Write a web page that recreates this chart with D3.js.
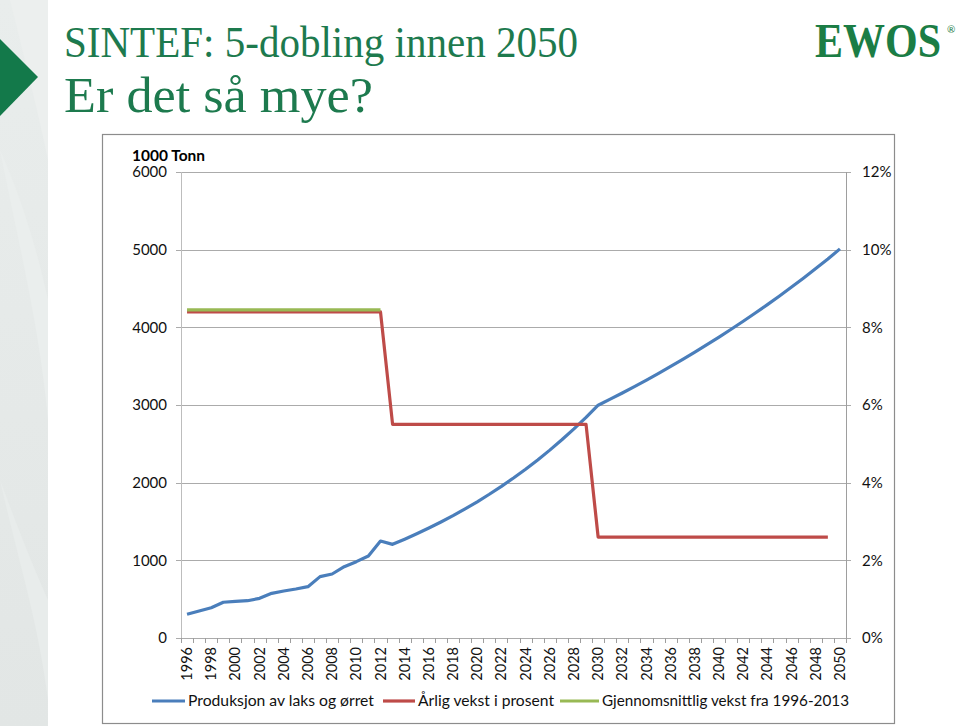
<!DOCTYPE html>
<html>
<head>
<meta charset="utf-8">
<script src="https://cdn.jsdelivr.net/npm/d3@7"></script>
<style>
  html, body { margin: 0; padding: 0; background: #ffffff; }
  svg { display: block; }
</style>
</head>
<body>
<svg id="chart" width="960" height="726"></svg>
<script>
// ---------------- DATA ----------------
const years = [1996,1997,1998,1999,2000,2001,2002,2003,2004,2005,2006,2007,2008,2009,2010,
  2011,2012,2013,2014,2015,2016,2017,2018,2019,2020,2021,2022,2023,2024,2025,2026,2027,2028,
  2029,2030,2031,2032,2033,2034,2035,2036,2037,2038,2039,2040,2041,2042,2043,2044,2045,2046,
  2047,2048,2049,2050];

// Produksjon av laks og ørret (1000 tonn)
const production = [305,348,390,460,472,480,511,575,605,631,661,790,824,918,983,
  1056,1249,1206,1272,1342,1416,1494,1576,1663,1754,1851,1953,2060,2173,2293,2419,2552,2692,
  2840,2997,3075,3155,3237,3321,3407,3496,3587,3680,3776,3874,3975,4078,4184,4293,4404,4519,
  4636,4757,4880,5010];

// Årlig vekst i prosent
const annualGrowth = [8.4,8.4,8.4,8.4,8.4,8.4,8.4,8.4,8.4,8.4,8.4,8.4,8.4,8.4,8.4,
  8.4,8.4,5.5,5.5,5.5,5.5,5.5,5.5,5.5,5.5,5.5,5.5,5.5,5.5,5.5,5.5,5.5,5.5,
  5.5,2.6,2.6,2.6,2.6,2.6,2.6,2.6,2.6,2.6,2.6,2.6,2.6,2.6,2.6,2.6,2.6,2.6,
  2.6,2.6,2.6,null];

// Gjennomsnittlig vekst fra 1996-2013
const avgGrowth = [8.45,8.45,8.45,8.45,8.45,8.45,8.45,8.45,8.45,8.45,8.45,8.45,8.45,8.45,8.45,
  8.45,8.45];

const leftTicks = [0,1000,2000,3000,4000,5000,6000];
const rightTicks = [0,2,4,6,8,10,12];
const xLabelYears = [1996,1998,2000,2002,2004,2006,2008,2010,2012,2014,2016,2018,2020,2022,
  2024,2026,2028,2030,2032,2034,2036,2038,2040,2042,2044,2046,2048,2050];

const seriesNames = ["Produksjon av laks og ørret", "Årlig vekst i prosent", "Gjennomsnittlig vekst fra 1996-2013"];
const leftUnit = "1000 Tonn";
const title1 = "SINTEF: 5-dobling innen 2050";
const title2 = "Er det så mye?";

// ---------------- LAYOUT ----------------
const W = 960, H = 726;
const plot = { left: 181, right: 846, top: 172, bottom: 638 };
const colors = { blue: "#4a7ebb", red: "#be4b48", green: "#98b954", grid: "#ababab", green2: "#1d7a4e" };
const sansFont = "Lato, 'Open Sans', sans-serif";

const svg = d3.select("#chart");

// ---------- slide background ----------
const defs = svg.append("defs");
const grad = defs.append("linearGradient").attr("id", "strip").attr("x1", 0).attr("y1", 0).attr("x2", 0).attr("y2", 1);
grad.append("stop").attr("offset", "0%").attr("stop-color", "#e9edec");
grad.append("stop").attr("offset", "100%").attr("stop-color", "#e2e6e5");
svg.append("rect").attr("x", 0).attr("y", 0).attr("width", 48).attr("height", H).attr("fill", "url(#strip)");
// subtle lighter swooshes in the strip
svg.append("path").attr("d", "M0,150 C20,250 40,330 48,420 L48,300 C35,240 18,190 0,150 Z").attr("fill", "#eaeeed");
svg.append("path").attr("d", "M0,480 C18,560 38,620 48,700 L48,600 C30,560 15,520 0,480 Z").attr("fill", "#e8eceb");
svg.append("path").attr("d", "M10,0 C25,60 40,120 48,160 L48,0 Z").attr("fill", "#ecefee");
// green triangle
svg.append("path").attr("d", "M0,39 L38,77 L0,116 Z").attr("fill", "#13794a");

// ---------- titles ----------
svg.append("text").attr("x", 64).attr("y", 57)
  .attr("font-family", "'Liberation Serif', serif").attr("font-size", 45)
  .attr("fill", colors.green2).attr("textLength", 514).attr("lengthAdjust", "spacingAndGlyphs")
  .text(title1);
svg.append("text").attr("x", 64).attr("y", 112)
  .attr("font-family", "'Liberation Serif', serif").attr("font-size", 50)
  .attr("fill", colors.green2).attr("textLength", 309).attr("lengthAdjust", "spacingAndGlyphs")
  .text(title2);

// ---------- EWOS logo ----------
svg.append("text").attr("transform", "translate(815,57) scale(1,1.14)")
  .attr("font-family", "'Liberation Serif', serif").attr("font-weight", "bold").attr("font-size", 42)
  .attr("fill", "#1b7d45").attr("textLength", 126).attr("lengthAdjust", "spacingAndGlyphs")
  .text("EWOS");
svg.append("text").attr("x", 947).attr("y", 33)
  .attr("font-family", sansFont).attr("font-size", 10).attr("fill", "#1b7d45").text("®");

// ---------- chart frame ----------
svg.append("rect").attr("x", 102.5).attr("y", 134.5).attr("width", 792).attr("height", 589)
  .attr("fill", "#ffffff").attr("stroke", "#8c8c8c").attr("stroke-width", 1.2);

// ---------- scales ----------
const x = d3.scaleBand().domain(years).range([plot.left, plot.right]).padding(0);
const cx = yr => x(yr) + x.bandwidth() / 2;
const yL = d3.scaleLinear().domain([0, 6000]).range([plot.bottom, plot.top]);
const yR = d3.scaleLinear().domain([0, 12]).range([plot.bottom, plot.top]);

// ---------- gridlines ----------
svg.append("g").selectAll("line").data(leftTicks).join("line")
  .attr("x1", plot.left - 5).attr("x2", plot.right + 5)
  .attr("y1", d => Math.round(yL(d)) + 0.5).attr("y2", d => Math.round(yL(d)) + 0.5)
  .attr("stroke", colors.grid).attr("stroke-width", 1);

// axis lines
svg.append("line").attr("x1", plot.left + 0.5).attr("x2", plot.left + 0.5)
  .attr("y1", plot.top).attr("y2", plot.bottom + 5).attr("stroke", "#bdbdbd");
svg.append("line").attr("x1", plot.right + 0.5).attr("x2", plot.right + 0.5)
  .attr("y1", plot.top).attr("y2", plot.bottom + 5).attr("stroke", "#9e9e9e");

// left axis labels
const leftAxis = d3.axisLeft(yL).tickValues(leftTicks).tickSize(0).tickPadding(14).tickFormat(d3.format("d"));
const gL = svg.append("g").attr("transform", `translate(${plot.left},0)`).call(leftAxis);
gL.select(".domain").remove();
gL.selectAll("text").attr("font-family", sansFont).attr("font-size", 15).attr("fill", "#111");

// right axis labels
const rightAxis = d3.axisRight(yR).tickValues(rightTicks).tickSize(0).tickPadding(16).tickFormat(d => d + "%");
const gR = svg.append("g").attr("transform", `translate(${plot.right},0)`).call(rightAxis);
gR.select(".domain").remove();
gR.selectAll("text").attr("font-family", sansFont).attr("font-size", 15).attr("fill", "#111");

// x axis ticks at band boundaries
const boundaries = years.map(yr => x(yr)).concat([plot.right]);
svg.append("g").selectAll("line").data(boundaries).join("line")
  .attr("x1", d => Math.round(d) + 0.5).attr("x2", d => Math.round(d) + 0.5)
  .attr("y1", plot.bottom).attr("y2", plot.bottom + 5)
  .attr("stroke", "#9e9e9e");

// x labels (rotated)
const xAxis = d3.axisBottom(x).tickValues(xLabelYears).tickSize(0).tickPadding(0);
const gX = svg.append("g").attr("transform", `translate(0,${plot.bottom})`).call(xAxis);
gX.select(".domain").remove();
gX.selectAll("text")
  .attr("font-family", sansFont).attr("font-size", 14.5).attr("fill", "#111")
  .attr("transform", "rotate(-90)")
  .attr("x", -9).attr("y", 0).attr("dy", "0.35em")
  .attr("text-anchor", "end");

// unit label
svg.append("text").attr("x", 132).attr("y", 161)
  .attr("font-family", sansFont).attr("font-weight", "bold").attr("font-size", 15).attr("fill", "#000")
  .attr("textLength", 73).attr("lengthAdjust", "spacingAndGlyphs")
  .text(leftUnit);

// ---------- series ----------
const lineL = d3.line().x((d, i) => cx(years[i])).y(d => yL(d));
const lineR = d3.line().defined(d => d !== null).x((d, i) => cx(years[i])).y(d => yR(d));

svg.append("path").datum(production).attr("d", lineL)
  .attr("fill", "none").attr("stroke", colors.blue).attr("stroke-width", 3.2).attr("stroke-linejoin", "round");
svg.append("path").datum(annualGrowth).attr("d", lineR)
  .attr("fill", "none").attr("stroke", colors.red).attr("stroke-width", 3.2).attr("stroke-linejoin", "round");
svg.append("path").datum(avgGrowth).attr("d", lineR)
  .attr("fill", "none").attr("stroke", colors.green).attr("stroke-width", 3.2).attr("stroke-linejoin", "round");

// ---------- legend ----------
const legendItems = [
  { name: seriesNames[0], color: colors.blue, lx: 152, tx: 188, tw: 186 },
  { name: seriesNames[1], color: colors.red, lx: 383, tx: 418, tw: 136 },
  { name: seriesNames[2], color: colors.green, lx: 560, tx: 602, tw: 247 }
];
const legendY = 701;
const lg = svg.append("g");
legendItems.forEach(it => {
  lg.append("line").attr("x1", it.lx).attr("x2", it.tx - 3).attr("y1", legendY).attr("y2", legendY)
    .attr("stroke", it.color).attr("stroke-width", 3.2);
  lg.append("text").attr("x", it.tx).attr("y", legendY).attr("dy", "0.35em")
    .attr("font-family", sansFont).attr("font-size", 15).attr("fill", "#111")
    .attr("textLength", it.tw).attr("lengthAdjust", "spacingAndGlyphs")
    .text(it.name);
});
</script>
</body>
</html>
